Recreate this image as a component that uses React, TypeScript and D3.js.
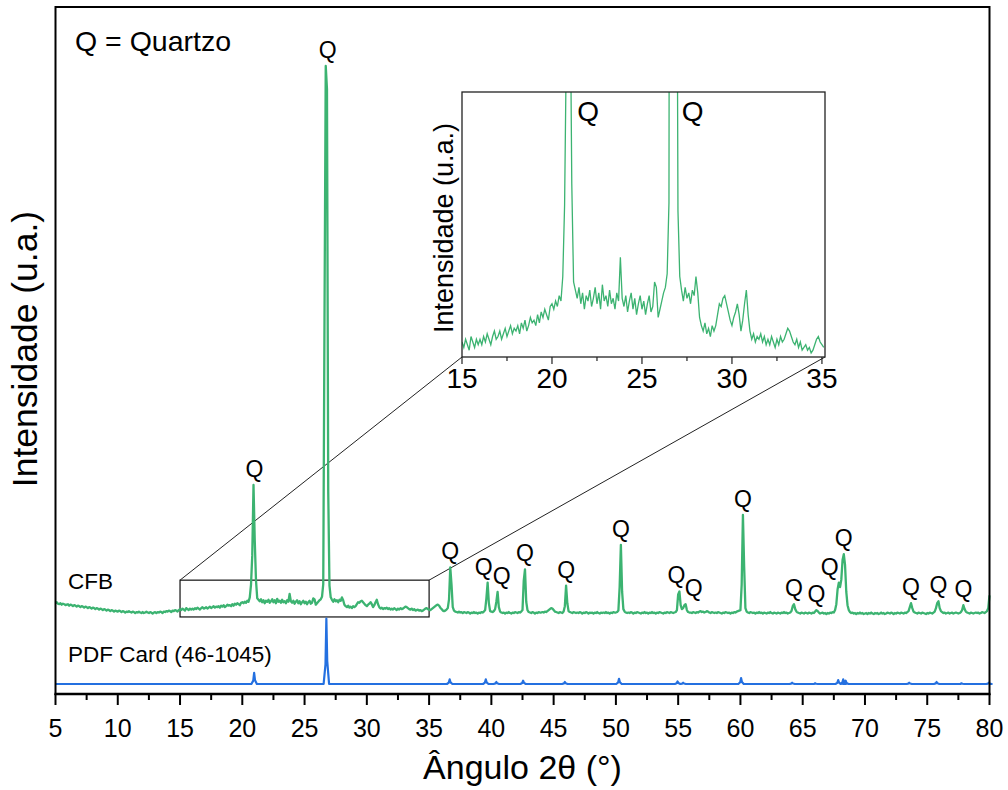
import React from "react";
import * as d3 from "d3";

const FONT = "'Liberation Sans', Arial, Helvetica, sans-serif";

// CFB diffractogram, counts sampled every 0.1° from 5.0° to 80.0° (one row per degree)
const ANGLE_START = 5;
const ANGLE_STEP = 0.1;
const cfbCounts: number[] = [
  72, 74, 71, 70, 72, 69, 71, 70, 68, 69,
  70, 67, 69, 68, 66, 68, 67, 65, 67, 66,
  64, 66, 65, 63, 65, 64, 62, 64, 63, 61,
  63, 62, 60, 62, 61, 59, 61, 60, 58, 60,
  59, 57, 59, 58, 56, 58, 57, 55, 57, 56,
  55, 57, 56, 54, 56, 55, 53, 55, 54, 56,
  54, 53, 55, 54, 52, 54, 53, 55, 53, 52,
  54, 52, 53, 55, 53, 52, 54, 53, 51, 53,
  54, 52, 54, 53, 55, 54, 52, 55, 54, 56,
  55, 57, 56, 54, 57, 56, 58, 57, 55, 58,
  60, 58, 61, 59, 57, 62, 60, 58, 61, 59,
  61, 59, 62, 60, 63, 61, 59, 62, 64, 61,
  62, 64, 61, 63, 65, 62, 64, 66, 63, 65,
  64, 66, 63, 67, 65, 68, 64, 66, 69, 67,
  68, 66, 70, 67, 71, 69, 72, 70, 68, 73,
  74, 72, 75, 73, 77, 75, 84, 110, 170, 313,
  200, 118, 82, 79, 76, 80, 74, 78, 72, 77,
  75, 79, 73, 76, 80, 74, 78, 72, 81, 75,
  77, 73, 79, 74, 76, 72, 78, 75, 91, 76,
  73, 77, 71, 75, 78, 72, 76, 70, 74, 77,
  72, 75, 70, 74, 77, 71, 73, 82, 80, 69,
  72, 75, 78, 80, 85, 111, 650, 1167, 1120, 300,
  108, 84, 79, 75, 80, 76, 78, 74, 79, 77,
  84, 78, 69, 66, 64, 67, 63, 65, 62, 66,
  64, 66, 70, 74, 73, 76, 77, 74, 71, 68,
  66, 69, 71, 74, 70, 64, 68, 74, 79, 70,
  64, 61, 63, 60, 62, 61, 63, 60, 62, 59,
  61, 59, 62, 60, 58, 61, 59, 62, 60, 61,
  63, 65, 64, 62, 60, 59, 61, 58, 60, 57,
  58, 59, 57, 58, 56, 57, 59, 61, 62, 60,
  59, 58, 60, 62, 64, 66, 68, 69, 67, 63,
  60, 57, 56, 57, 59, 62, 80, 145, 110, 64,
  57, 55, 54, 53, 55, 53, 54, 52, 54, 53,
  52, 54, 53, 51, 53, 52, 54, 52, 53, 51,
  53, 52, 54, 53, 55, 58, 82, 114, 72, 56,
  55, 54, 56, 60, 75, 95, 64, 55, 53, 52,
  53, 51, 53, 52, 54, 52, 51, 53, 52, 54,
  53, 52, 54, 53, 55, 58, 118, 141, 75, 58,
  54, 53, 52, 54, 53, 51, 53, 52, 54, 53,
  53, 54, 53, 55, 54, 56, 58, 60, 62, 61,
  58, 55, 54, 53, 52, 54, 53, 52, 55, 66,
  108, 72, 56, 54, 53, 52, 54, 53, 52, 53,
  52, 54, 53, 51, 53, 52, 54, 53, 51, 53,
  52, 53, 51, 53, 52, 54, 52, 51, 53, 52,
  53, 52, 54, 52, 53, 51, 53, 52, 54, 53,
  53, 54, 57, 105, 191, 95, 60, 55, 53, 52,
  53, 52, 54, 53, 51, 53, 52, 54, 53, 52,
  51, 53, 52, 54, 52, 53, 51, 53, 52, 54,
  52, 53, 51, 53, 52, 54, 53, 52, 51, 53,
  52, 54, 53, 52, 54, 53, 52, 53, 54, 58,
  90, 96, 68, 60, 62, 68, 70, 58, 54, 53,
  53, 52, 54, 53, 52, 54, 53, 55, 56, 54,
  55, 53, 54, 56, 55, 53, 52, 54, 53, 52,
  53, 52, 54, 53, 52, 51, 53, 52, 54, 53,
  52, 53, 51, 53, 52, 54, 53, 55, 56, 57,
  58, 110, 252, 146, 62, 55, 53, 52, 54, 53,
  52, 53, 51, 53, 52, 54, 52, 53, 51, 53,
  52, 51, 53, 52, 54, 52, 51, 53, 52, 51,
  53, 52, 51, 53, 52, 54, 52, 53, 51, 52,
  53, 56, 66, 70, 60, 55, 53, 52, 51, 53,
  52, 51, 53, 52, 51, 53, 52, 51, 53, 52,
  55, 58, 56, 53, 51, 52, 53, 51, 52, 50,
  52, 51, 53, 52, 54, 53, 58, 70, 100, 114,
  105, 120, 160, 172, 150, 95, 68, 58, 54, 52,
  53, 51, 52, 50, 52, 51, 53, 51, 52, 50,
  51, 52, 50, 52, 51, 53, 51, 50, 52, 51,
  52, 50, 51, 53, 51, 52, 50, 51, 53, 52,
  51, 53, 52, 50, 52, 51, 53, 52, 51, 53,
  52, 51, 53, 52, 54, 56, 64, 72, 62, 55,
  53, 52, 51, 53, 52, 51, 53, 52, 51, 50,
  52, 51, 53, 52, 51, 53, 55, 62, 72, 76,
  62, 56, 54, 52, 53, 51, 52, 53, 51, 52,
  53, 51, 52, 53, 52, 51, 52, 54, 58, 68,
  60, 55, 53, 52, 51, 53, 52, 51, 52, 53,
  52, 53, 51, 52, 54, 53, 52, 54, 56, 62,
  88,
];
const cfbAngles = cfbCounts.map((_, i) => +(ANGLE_START + i * ANGLE_STEP).toFixed(1));

// Quartz reference card PDF 46-1045: peak positions (°2θ) and relative intensity (%)
const pdfAngles = [20.95, 26.75, 36.65, 39.55, 40.4, 42.55, 45.9, 50.25, 54.95, 55.4, 60.05, 64.15, 66.0, 67.85, 68.25, 68.45, 73.55, 75.75, 77.75, 79.95];
const pdfIntensity = [17, 100, 7, 7, 3, 5, 3, 8, 4, 2, 9, 2, 1, 6, 7, 5, 2, 3, 1, 2];

// Quartz reflections marked with "Q" on the CFB pattern
const quartzAngles = [20.9, 26.7, 36.7, 39.7, 40.5, 42.7, 46.0, 50.4, 55.1, 55.6, 60.2, 64.3, 66.1, 67.9, 68.3, 73.7, 75.9, 77.9];
const quartzLabelNudge = [1, 2, 0, -4, 4, 0, 0, 0, -3, 8, 0, 0, 0, -9, 0, 0, 0, 0];
// Reflections labelled inside the zoomed panel
const insetQuartzAngles = [20.9, 26.7];

const xTickValues = [5, 10, 15, 20, 25, 30, 35, 40, 45, 50, 55, 60, 65, 70, 75, 80];
const insetTickValues = [15, 20, 25, 30, 35];

// zoom window (°2θ and counts) shown in the inset
const ZOOM_X = [15, 35];
const ZOOM_COUNTS = [44, 119];

const CFB_OFFSET = 113;
const PDF_BASE = 20.4;
const PDF_SCALE = 1.33;

const GREEN = "#3cb371";
const BLUE = "#2470e0";

export default function App() {
  const W = 1008;
  const H = 790;
  const left = 55.5, right = 989.5, top = 7, bottom = 694;

  const x = d3.scaleLinear().domain([5, 80]).range([left, right]);
  const y = d3.scaleLinear().domain([0, 1400]).range([bottom, top]);

  const cfbLine = d3
    .line<number>()
    .x((_, i) => x(cfbAngles[i]))
    .y((d) => y(d + CFB_OFFSET));

  // PDF card drawn as narrow peaks on a flat baseline
  const pdfPoints: [number, number][] = [[5, 0]];
  pdfAngles.forEach((a, i) => {
    const I = pdfIntensity[i];
    pdfPoints.push([a - 0.22, 0], [a - 0.07, I * 0.3], [a, I], [a + 0.07, I * 0.35], [a + 0.22, 0]);
  });
  pdfPoints.push([80, 0]);
  const pdfLine = d3
    .line<[number, number]>()
    .x((d) => x(d[0]))
    .y((d) => y(PDF_BASE + d[1] * PDF_SCALE));

  const peakTop = (a: number) => {
    let m = -Infinity;
    cfbAngles.forEach((t, i) => {
      if (Math.abs(t - a) <= 0.151) m = Math.max(m, cfbCounts[i]);
    });
    return m;
  };

  // inset panel
  const iL = 462, iR = 825, iT = 92, iB = 357;
  const xi = d3.scaleLinear().domain([15, 35.17]).range([iL, iR]);
  const yi = d3.scaleLinear().domain([54.5, 151.6]).range([iB, iT]);
  const insetIdx = cfbAngles
    .map((a, i) => i)
    .filter((i) => cfbAngles[i] >= 15 && cfbAngles[i] <= 35.15);
  const insetLine = d3
    .line<number>()
    .x((i) => xi(cfbAngles[i]))
    .y((i) => yi(cfbCounts[i]));

  const minorTicks = d3.range(7.5, 80, 5);
  const insetMinor = d3.range(17.5, 35, 5);

  const boxTop = y(ZOOM_COUNTS[1] + CFB_OFFSET);
  const boxBottom = y(ZOOM_COUNTS[0] + CFB_OFFSET);

  return (
    <svg
      width={W}
      height={H}
      viewBox={`0 0 ${W} ${H}`}
      style={{ position: "absolute", left: 0, top: 0, background: "#fff" }}
      fontFamily={FONT}
    >
      <rect x={0} y={0} width={W} height={H} fill="#fff" />

      {/* zoom window and connectors */}
      <rect
        x={x(ZOOM_X[0])}
        y={boxTop}
        width={x(ZOOM_X[1]) - x(ZOOM_X[0])}
        height={boxBottom - boxTop}
        fill="none"
        stroke="#111"
        strokeWidth={1.2}
      />
      <line x1={x(ZOOM_X[0])} y1={boxTop} x2={iL} y2={iB} stroke="#222" strokeWidth={1} />
      <line x1={x(ZOOM_X[1])} y1={boxTop} x2={iR} y2={iB} stroke="#222" strokeWidth={1} />

      {/* patterns */}
      <path d={pdfLine(pdfPoints) ?? ""} fill="none" stroke={BLUE} strokeWidth={2.2} strokeLinejoin="round" />
      <path d={cfbLine(cfbCounts) ?? ""} fill="none" stroke={GREEN} strokeWidth={2.3} strokeLinejoin="round" />

      {/* Q markers */}
      {quartzAngles.map((a, i) => (
        <text
          key={`q${i}`}
          x={x(a) + quartzLabelNudge[i]}
          y={y(peakTop(a) + CFB_OFFSET) - 8}
          fontSize={23}
          textAnchor="middle"
          fill="#000"
        >
          Q
        </text>
      ))}

      {/* series labels */}
      <text x={68} y={589} fontSize={22.5} fill="#000">CFB</text>
      <text x={68} y={662} fontSize={22.5} fill="#000">PDF Card (46-1045)</text>
      <text x={75} y={51} fontSize={28.5} fill="#000">Q = Quartzo</text>

      {/* frame */}
      <rect x={left} y={top} width={right - left} height={bottom - top} fill="none" stroke="#000" strokeWidth={2} />
      <line x1={left - 1} x2={right + 1} y1={bottom} y2={bottom} stroke="#000" strokeWidth={2.5} />

      {/* x axis ticks */}
      {xTickValues.map((v) => (
        <g key={`t${v}`}>
          <line x1={x(v)} x2={x(v)} y1={bottom} y2={bottom + 11} stroke="#000" strokeWidth={2} />
          <text x={x(v)} y={737} fontSize={25} textAnchor="middle" fill="#000">
            {v}
          </text>
        </g>
      ))}
      {minorTicks.map((v) => (
        <line key={`m${v}`} x1={x(v)} x2={x(v)} y1={bottom} y2={bottom + 6} stroke="#000" strokeWidth={2} />
      ))}

      <text x={(left + right) / 2} y={779} fontSize={34} textAnchor="middle" fill="#000">
        Ângulo 2θ (°)
      </text>
      <text
        transform={`translate(37,349) rotate(-90)`}
        fontSize={35.5}
        textAnchor="middle"
        fill="#000"
      >
        Intensidade (u.a.)
      </text>

      {/* inset */}
      <defs>
        <clipPath id="insetClip">
          <rect x={iL} y={iT} width={iR - iL} height={iB - iT} />
        </clipPath>
      </defs>
      <rect x={iL} y={iT} width={iR - iL} height={iB - iT} fill="#fff" />
      <path
        d={insetLine(insetIdx) ?? ""}
        fill="none"
        stroke={GREEN}
        strokeWidth={1.3}
        clipPath="url(#insetClip)"
      />
      <rect x={iL} y={iT} width={iR - iL} height={iB - iT} fill="none" stroke="#222" strokeWidth={1.3} />
      {insetTickValues.map((v) => (
        <g key={`it${v}`}>
          <line x1={xi(v)} x2={xi(v)} y1={iB} y2={iB + 7} stroke="#222" strokeWidth={1.2} />
          <text x={xi(v)} y={388} fontSize={28} textAnchor="middle" fill="#000">
            {v}
          </text>
        </g>
      ))}
      {insetMinor.map((v) => (
        <line key={`im${v}`} x1={xi(v)} x2={xi(v)} y1={iB} y2={iB + 4} stroke="#222" strokeWidth={1.2} />
      ))}
      {insetQuartzAngles.map((a) => (
        <text key={`iq${a}`} x={xi(a) + 20} y={121} fontSize={28} textAnchor="middle" fill="#000">
          Q
        </text>
      ))}
      <text transform={`translate(453,228) rotate(-90)`} fontSize={27} textAnchor="middle" fill="#000">
        Intensidade (u.a.)
      </text>
    </svg>
  );
}
